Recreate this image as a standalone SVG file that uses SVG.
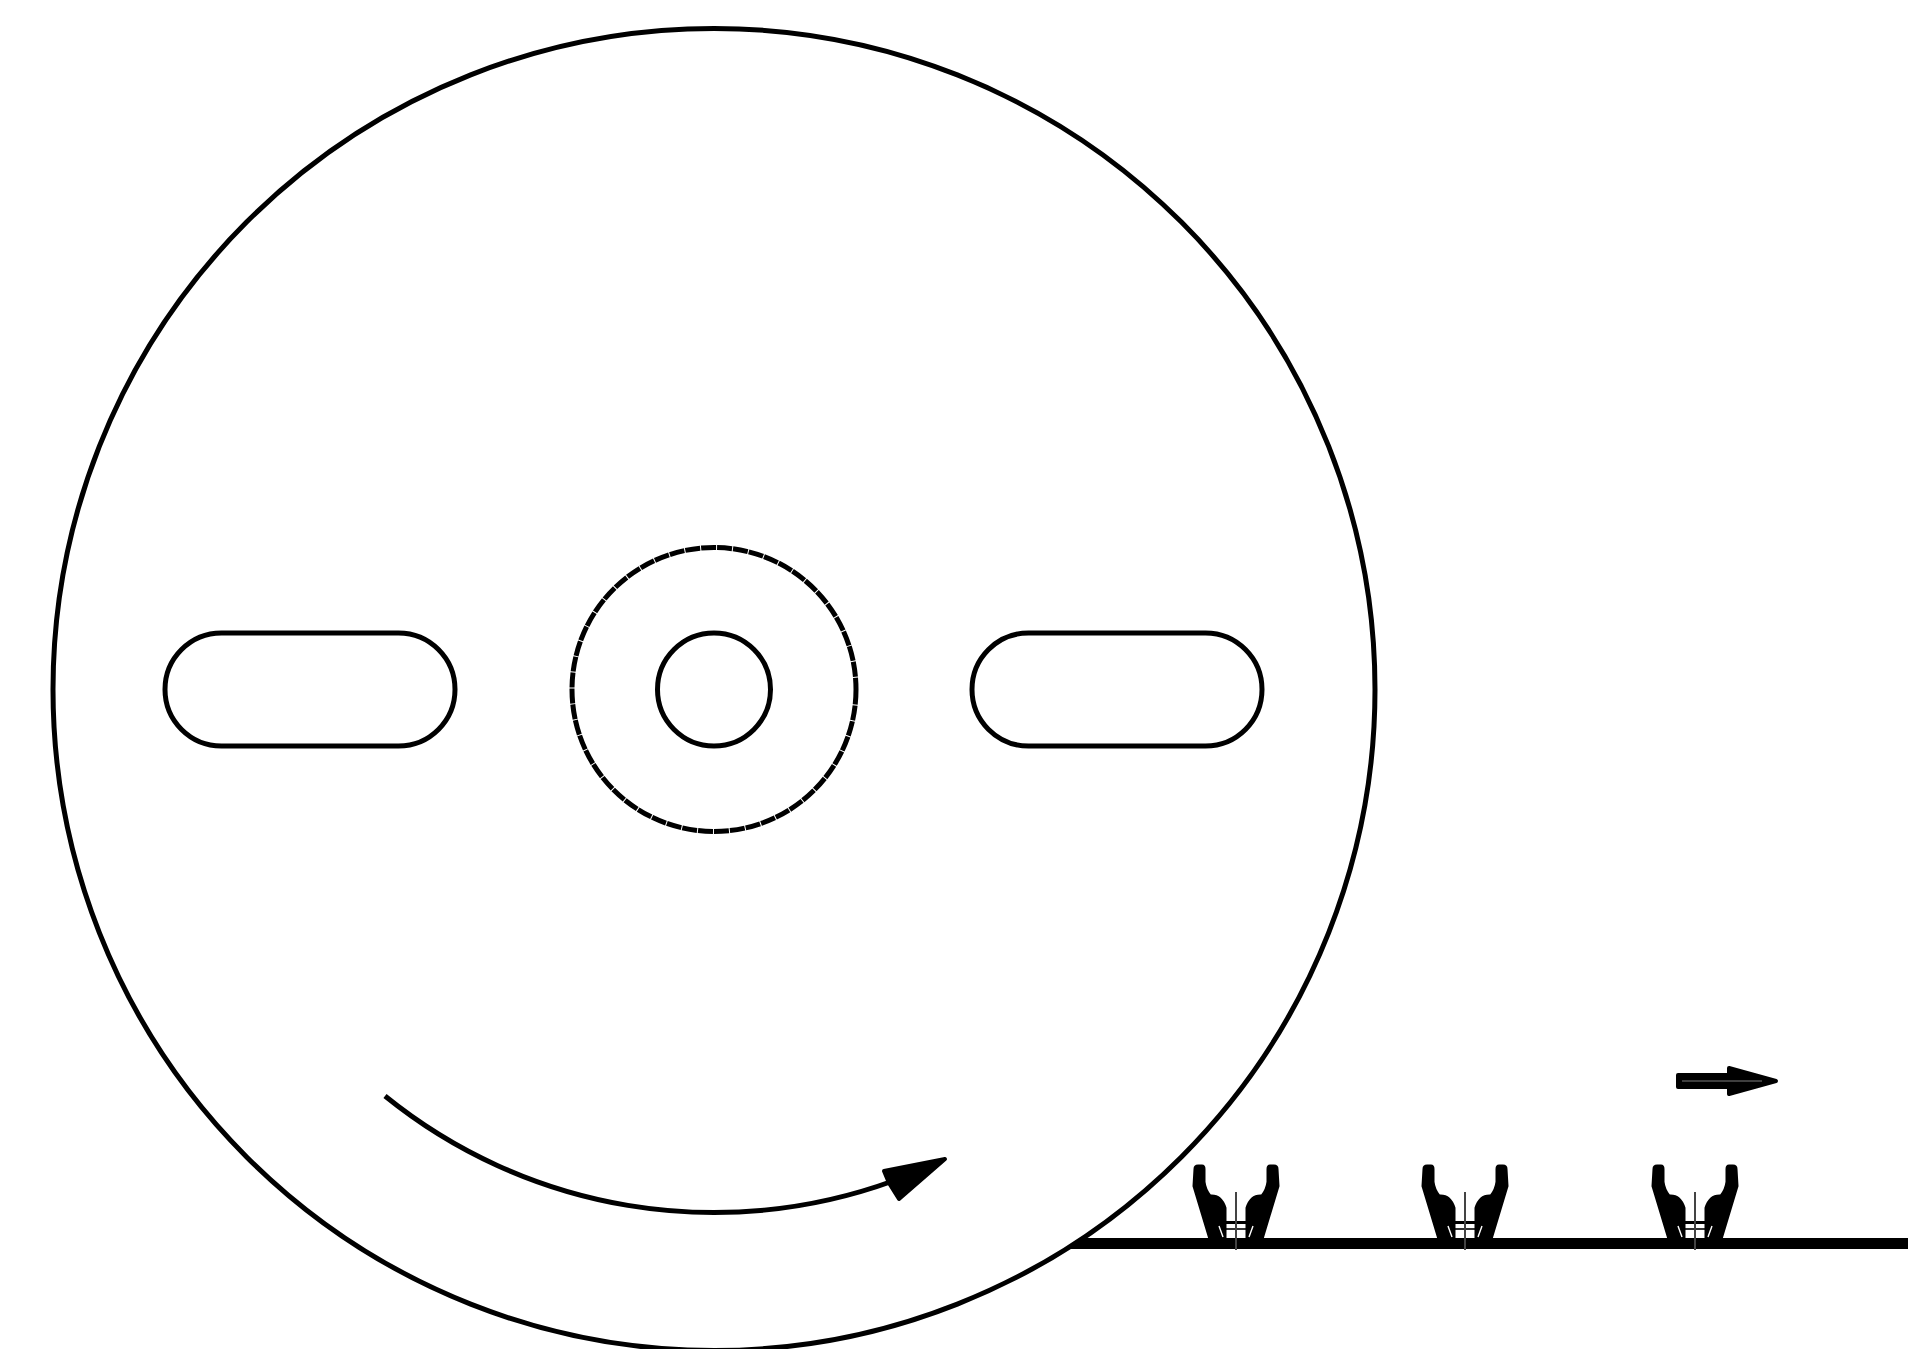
<svg xmlns="http://www.w3.org/2000/svg" width="1908" height="1349" viewBox="0 0 1908 1349">
<style>
.o{fill:none;stroke:#000;stroke-width:5}
.k{fill:#000;stroke:#000;stroke-width:4;stroke-linejoin:round}
.p{fill:#000;stroke:#000;stroke-width:3;stroke-linejoin:round}
.t{fill:none;stroke:#000;stroke-width:1.6}
.s{fill:none;stroke:#fff;stroke-width:1.4}
</style>
<defs>
<g id="grip">
<path class="p" d="M-41 3Q-41 0 -38 0H-34Q-32 0 -32 3V16Q-31 24 -26 30Q-15 29 -11 42V73H-26L-42 20Z"/>
<path class="p" d="M41 3Q41 0 38 0H34Q32 0 32 3V16Q31 24 26 30Q15 29 11 42V73H26L42 20Z"/>
<path d="M-12 56.500H12" fill="none" stroke="#000" stroke-width="3"/>
<path class="t" d="M-12 63H12"/>
<path class="s" d="M-17 60L-13 71M17 60L13 71"/>
<path d="M0 26V84" fill="none" stroke="#444" stroke-width="2"/>
</g>
</defs>
<rect width="1908" height="1349" fill="#fff"/>
<g id="connectors">
<path id="belt" d="M1067 1249L1085 1238H1908V1249Z" fill="#000"/>
<path id="rotation-arc" class="o" d="M385 1096A523 523 0 0 0 893 1181"/>
<path id="rotation-head" class="k" d="M945 1159L884 1171L889 1183L899 1199Z"/>
<g id="travel-arrow">
<path class="k" d="M1678 1075H1729V1068L1776 1081L1729 1094V1087H1678Z"/>
<path d="M1682 1081H1762" fill="none" stroke="#555" stroke-width="1.5"/>
</g>
</g>
<g id="drum"><circle class="o" cx="714" cy="689.500" r="661"/></g>
<g id="hub-outer"><circle class="o" cx="714" cy="689.500" r="142" stroke-dasharray="15 1"/></g>
<g id="hub-inner"><circle class="o" cx="714" cy="689.500" r="56.500"/></g>
<g id="slot-left"><rect class="o" x="165" y="633" width="290" height="113" rx="56.500"/></g>
<g id="slot-right"><rect class="o" x="972" y="633" width="290" height="113" rx="56.500"/></g>
<g id="gripper-1"><use href="#grip" x="1236" y="1166"/></g>
<g id="gripper-2"><use href="#grip" x="1465" y="1166"/></g>
<g id="gripper-3"><use href="#grip" x="1695" y="1166"/></g>
</svg>
